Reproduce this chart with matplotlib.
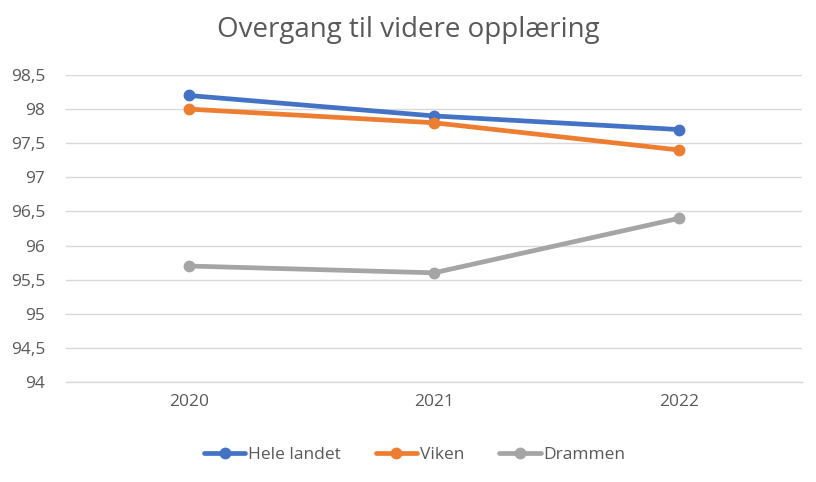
import numpy as np
import matplotlib.pyplot as plt

plt.rcParams['font.family'] = ['Open Sans', 'DejaVu Sans']

# data
years = ["2020", "2021", "2022"]
hele_landet = [98.2, 97.9, 97.7]
viken = [98.0, 97.8, 97.4]
drammen = [95.7, 95.6, 96.4]

series = [
    ("Hele landet", hele_landet, "#4472C4"),
    ("Viken", viken, "#ED7D31"),
    ("Drammen", drammen, "#A5A5A5"),
]

fig = plt.figure(figsize=(8.16, 4.82), dpi=100)
ax = fig.add_axes([0.0809, 0.2075, 0.9019, 0.6369])

x = np.arange(len(years))
for name, vals, color in series:
    ax.plot(x, vals, color=color, lw=3.4, marker="o", ms=7.5, label=name,
            solid_capstyle="round")

ax.set_xlim(-0.5, 2.5)
ax.set_ylim(94, 98.5)
yt = np.arange(94, 98.51, 0.5)
ax.set_yticks(yt)
ax.set_yticklabels([f"{v:g}".replace(".", ",") for v in yt])
ax.set_xticks(x)
ax.set_xticklabels(years)

ax.grid(axis="y", color="#D9D9D9", lw=1)
ax.axhline(94, color="#D9D9D9", lw=1, clip_on=False, zorder=0)
ax.set_axisbelow(True)
for s in ax.spines.values():
    s.set_visible(False)
ax.tick_params(length=0, colors="#595959", labelsize=12.5)
ax.tick_params(axis="y", pad=15)
ax.tick_params(axis="x", pad=9)

fig.suptitle("Overgang til videre opplæring", y=0.967, fontsize=20,
             color="#595959")

fig.legend(loc="center", bbox_to_anchor=(0.508, 0.056), ncol=3, frameon=False,
           fontsize=12.5, labelcolor="#595959", handlelength=2.4,
           handletextpad=0.15, columnspacing=2.0)

fig.savefig("out.png", dpi=100)
